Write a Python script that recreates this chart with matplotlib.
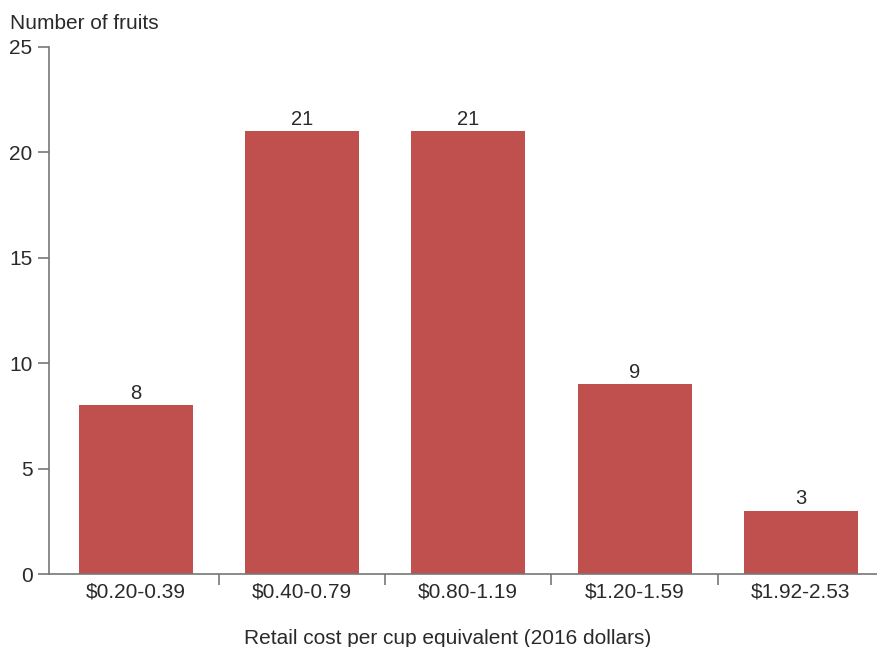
import matplotlib.pyplot as plt
import numpy as np

categories = ['$0.20-0.39', '$0.40-0.79', '$0.80-1.19', '$1.20-1.59', '$1.92-2.53']
counts = [8, 21, 21, 9, 3]

plt.rcParams['font.family'] = ['Liberation Sans', 'DejaVu Sans']
txt = '#2a2a2a'

fig = plt.figure(figsize=(8.77, 6.47), dpi=100)
ax = fig.add_axes([0.056, 0.1128, 0.952, 0.8146])

x = np.arange(len(categories))
bars = ax.bar(x, counts, width=0.685, color='#C0504D', zorder=2)
for b, v in zip(bars, counts):
    ax.text(b.get_x() + b.get_width() / 2, v + 0.12, str(v), ha='center', va='bottom',
            fontsize=14.5, color=txt)

ax.set_xlim(-0.52, len(categories) - 0.5)
ax.set_ylim(0, 25)
ax.set_yticks([0, 5, 10, 15, 20, 25])

# category labels centred, tick marks between categories
ax.set_xticks(x)
ax.set_xticklabels(categories, fontsize=15, color=txt)
ax.tick_params(axis='x', length=0, pad=6)
ax.set_xticks(np.arange(0.5, len(categories) - 0.5), minor=True)
ax.tick_params(axis='x', which='minor', length=8, width=1.2, color='#777777', direction='out')
ax.tick_params(axis='y', length=8, width=1.2, color='#777777', labelsize=15,
               labelcolor=txt, pad=4)

for s in ['top', 'right']:
    ax.spines[s].set_visible(False)
for s in ['left', 'bottom']:
    ax.spines[s].set_color('#777777')
    ax.spines[s].set_linewidth(1.2)

ax.set_xlabel('Retail cost per cup equivalent (2016 dollars)', fontsize=15,
              color=txt)
ax.xaxis.set_label_coords(0.477, -0.104)
fig.text(0.011, 0.963, 'Number of fruits', fontsize=15, color=txt, va='center')

fig.savefig('out.png', dpi=100)
